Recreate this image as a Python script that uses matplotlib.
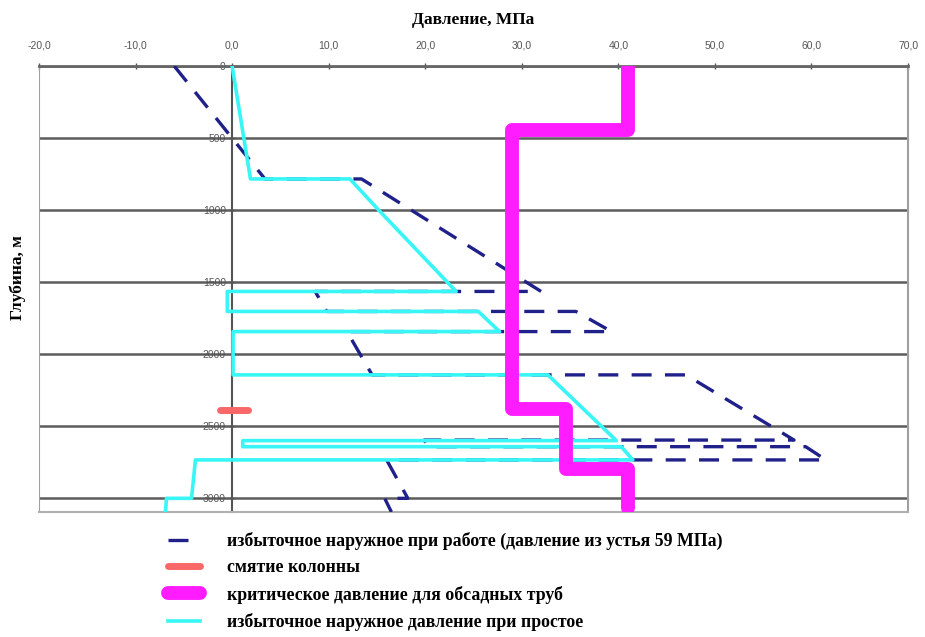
import matplotlib
matplotlib.use('Agg')
import matplotlib.pyplot as plt
from matplotlib.ticker import FuncFormatter, MultipleLocator

# pressure (MPa) / depth (m)
work_p = [-6.0, 3.4, 13.4, 32.0, 8.6, 9.8, 35.6, 39.3, 11.9, 14.5, 47.0, 58.2,
          19.9, 20.3, 59.4, 61.5, 16.0, 18.2, 15.8, 16.5]
work_d = [0, 785, 785, 1567, 1567, 1706, 1706, 1846, 1846, 2147, 2147, 2600,
          2600, 2646, 2646, 2738, 2738, 3005, 3005, 3100]

idle_p = [0.0, 1.9, 12.2, 15.3, 23.2, -0.5, -0.5, 25.5, 27.7, 0.1, 0.1, 32.7,
          39.8, 1.1, 1.1, 40.3, 41.5, -3.8, -4.2, -6.8, -6.9]
idle_d = [0, 785, 785, 1010, 1567, 1567, 1706, 1706, 1846, 1846, 2147, 2147,
          2604, 2604, 2646, 2646, 2738, 2738, 3005, 3005, 3100]

crit_p = [41.0, 41.0, 29.0, 29.0, 34.6, 34.6, 41.0, 41.0]
crit_d = [0, 442, 442, 2385, 2385, 2798, 2798, 3070]

collapse_p = [-1.3, 1.6]
collapse_d = [2390, 2390]

labels = ['избыточное наружное при работе (давление из устья 59 МПа)',
          'смятие колонны',
          'критическое давление для обсадных труб',
          'избыточное наружное давление при простое']

x_min, x_max = -20, 70
depth_max = 3100

serif = ['Liberation Serif', 'DejaVu Serif']

fig = plt.figure(figsize=(9.25, 6.37), dpi=100)
ax = fig.add_axes([39 / 925, 1 - 512 / 637, 869 / 925, 446 / 637])

l_work, = ax.plot(work_p, work_d, color='#20208a', lw=2.4, dashes=(6, 4), zorder=3)
l_coll, = ax.plot(collapse_p, collapse_d, color='#f86868', lw=5,
                  solid_capstyle='round', zorder=4)
l_idle, = ax.plot(idle_p, idle_d, color='#38f6f6', lw=2.6,
                  solid_joinstyle='round', zorder=4)
l_crit, = ax.plot(crit_p, crit_d, color='#ff1cff', lw=10,
                  solid_capstyle='round', solid_joinstyle='round', zorder=5)

ax.set_xlim(x_min, x_max)
ax.set_ylim(depth_max, 0)

# axes cross at zero pressure / zero depth
ax.spines['left'].set_position(('data', 0))
ax.spines['left'].set_color('#555555')
ax.spines['left'].set_linewidth(1.5)
ax.spines['top'].set_color('#666666')
ax.spines['top'].set_linewidth(2)
ax.spines['right'].set_color('#a0a0a0')
ax.spines['right'].set_linewidth(1.5)
ax.spines['bottom'].set_color('#b0b0b0')
ax.spines['bottom'].set_linewidth(1.5)
ax.axvline(x_min, color='#a0a0a0', lw=1.5, zorder=1)

ax.xaxis.tick_top()
ax.xaxis.set_label_position('top')
ax.xaxis.set_major_locator(MultipleLocator(10))
ax.xaxis.set_major_formatter(FuncFormatter(lambda v, _: f'{v:.1f}'.replace('.', ',')))
ax.set_yticks(range(0, 3001, 500))

ax.tick_params(axis='x', direction='inout', length=4, width=1, color='#555555',
               labelsize=7.5, labelcolor='#555555', pad=9)
ax.tick_params(axis='y', direction='inout', length=5, width=1, color='#555555',
               labelsize=7.5, labelcolor='#555555', pad=2)
for t in ax.get_xticklabels() + ax.get_yticklabels():
    t.set_family('Liberation Sans')

ax.yaxis.grid(True, color='#5c5c5c', lw=1.8)
ax.set_axisbelow(True)

ax.set_xlabel('Давление, МПа', fontsize=12.5, fontweight='bold', family=serif, labelpad=12)
ax.set_ylabel('Глубина, м', fontsize=12.5, fontweight='bold', family=serif)
ax.yaxis.set_label_coords(-0.015, 0.525)

fig.legend([l_work, l_coll, l_crit, l_idle], labels, loc='upper left',
           bbox_to_anchor=(168 / 925, 1 - 532 / 637), frameon=False,
           prop={'family': serif, 'weight': 'bold', 'size': 12.8},
           handlelength=1.8, handletextpad=1.5, labelspacing=0.52,
           borderpad=0, borderaxespad=0)

plt.savefig('out.png', dpi=100)
